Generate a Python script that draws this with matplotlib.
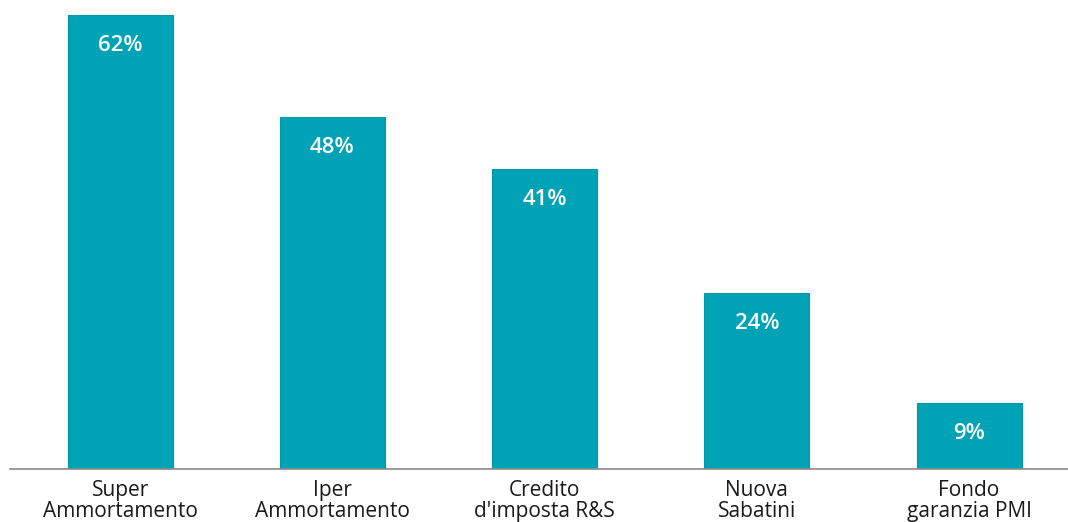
import matplotlib.pyplot as plt

categories = ["Super\nAmmortamento", "Iper\nAmmortamento", "Credito\nd'imposta R&S",
              "Nuova\nSabatini", "Fondo\ngaranzia PMI"]
values = [62, 48, 41, 24, 9]

plt.rcParams['font.family'] = ['Open Sans', 'DejaVu Sans']

fig = plt.figure(figsize=(10.68, 5.22), dpi=100)
ax = fig.add_axes([10 / 1068, 53 / 522, 1058 / 1068, 469 / 522])

x = range(len(categories))
bars = ax.bar(x, values, width=0.495, color='#00A3B5', edgecolor='#0097A8', linewidth=0.8)

# percentuali dentro le barre
for rect, v in zip(bars, values):
    ax.annotate(f"{v}%", (rect.get_x() + rect.get_width() / 2, v),
                xytext=(0, -22), textcoords='offset points',
                ha='center', va='center', color='white',
                fontsize=16, fontweight='semibold')

ax.set_xlim(-0.519, 4.466)
ax.set_ylim(0, 64)
ax.set_xticks(list(x))
ax.set_xticklabels(categories, fontsize=15, color='#1a1a1a', linespacing=1.0)
ax.tick_params(axis='x', length=0, pad=8)
ax.set_yticks([])
for side in ['top', 'right', 'left']:
    ax.spines[side].set_visible(False)
ax.spines['bottom'].set_color('#8a8a8a')
ax.spines['bottom'].set_linewidth(1.2)

fig.savefig('out.png', dpi=100)
